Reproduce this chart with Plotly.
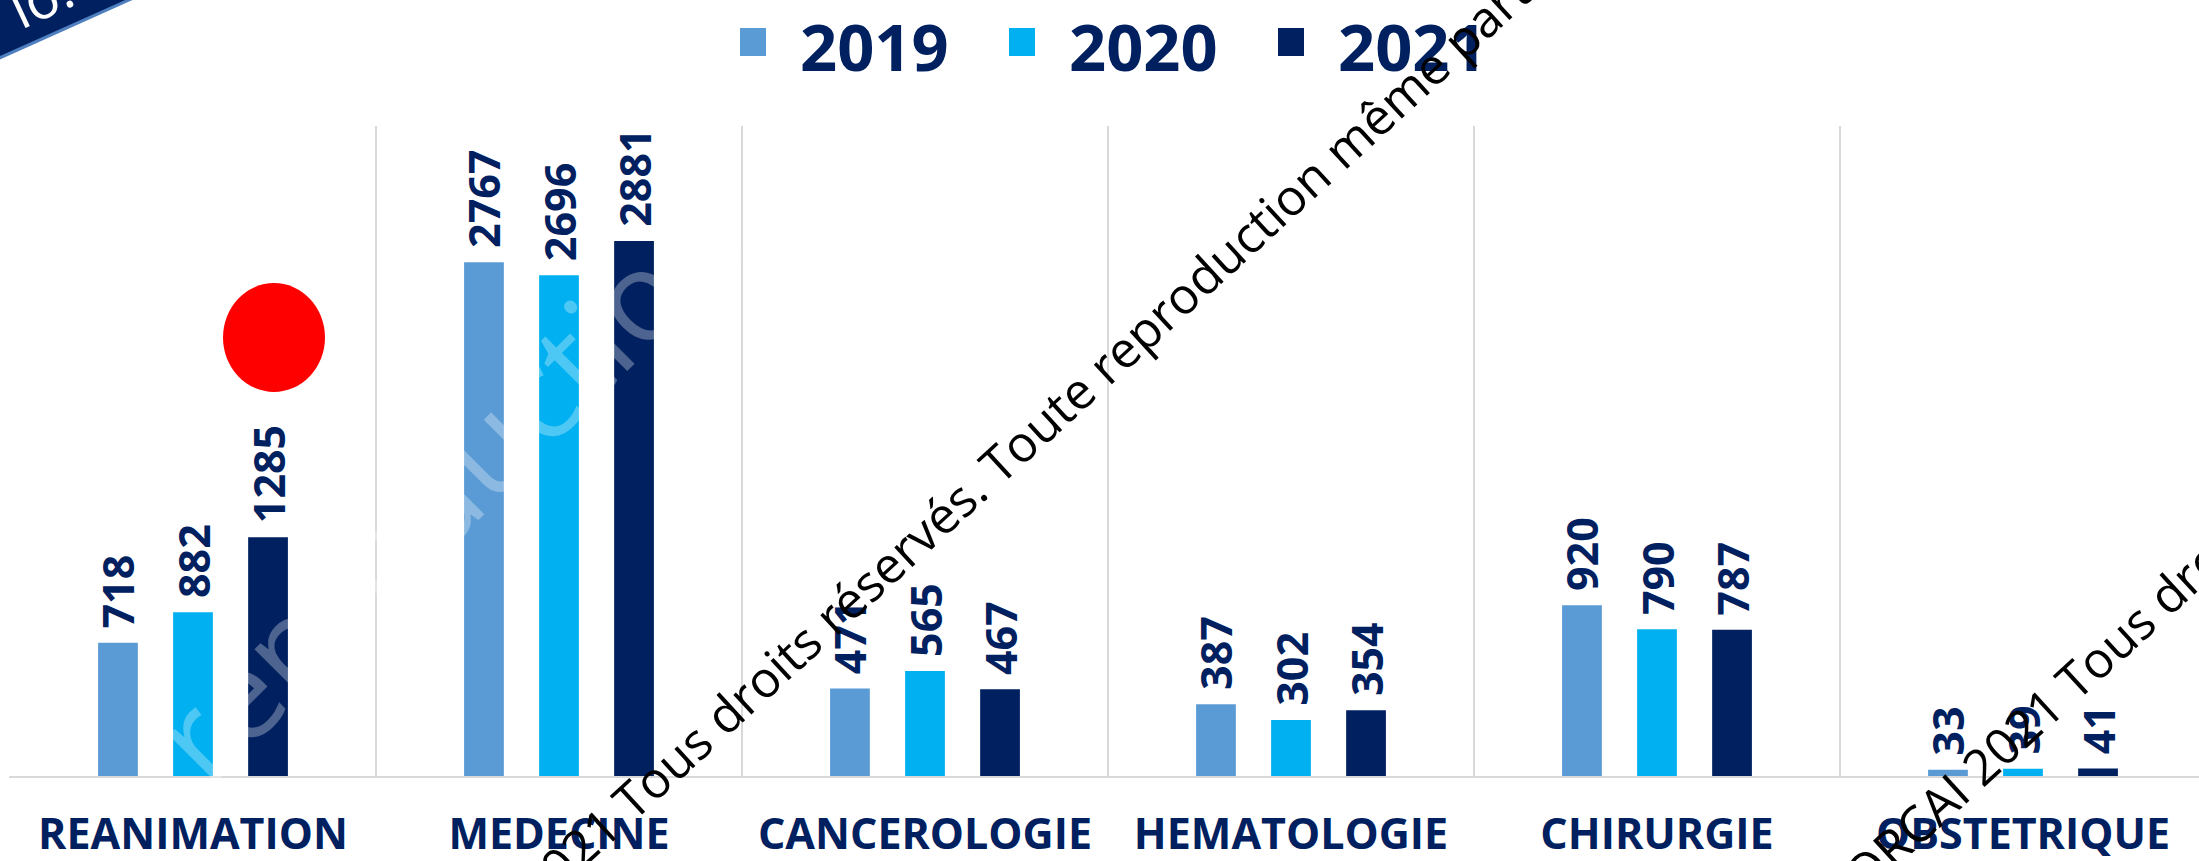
import plotly.graph_objects as go

W, H = 2199, 861
ML, MR, MT = 9, 0, 126
MB = H - 776
PW, PH = W - ML - MR, H - MT - MB
CAT_W = 366  # pixel width of one category slot

categories = ["REANIMATION", "MEDECINE", "CANCEROLOGIE", "HEMATOLOGIE", "CHIRURGIE", "OBSTETRIQUE"]
years = ["2019", "2020", "2021"]
v2019 = [718, 2767, 471, 387, 920, 33]
v2020 = [882, 2696, 565, 302, 790, 39]
v2021 = [1285, 2881, 467, 354, 787, 41]
colors = ["#5B9BD5", "#00B0F0", "#002060"]
NAVY = "#002060"
FONT = "Open Sans"

watermark = "© ORCAI 2021 Tous droits réservés. Toute reproduction même partielle interdite"


def px(x):
    # page pixel -> paper x
    return (x - ML) / PW


def py(y):
    # page pixel -> paper y
    return (H - MB - y) / PH


fig = go.Figure()
for name, vals, col in zip(years, [v2019, v2020, v2021], colors):
    fig.add_trace(go.Bar(
        x=categories, y=vals, name=name,
        marker_color=col, marker_line_width=0,
        texttemplate="\u00a0%{y}", textposition="outside", textangle=-90,
        textfont=dict(family=FONT, size=43, color=NAVY, weight="bold"),
        constraintext="none", cliponaxis=False, showlegend=False,
    ))

# custom legend (big squares like the original)
for i, (name, col) in enumerate(zip(years, colors)):
    x0 = 740 + i * 269
    fig.add_shape(type="rect", xref="paper", yref="paper",
                  x0=px(x0), x1=px(x0 + 26), y0=py(56), y1=py(28),
                  fillcolor=col, line_width=0)
    fig.add_annotation(xref="paper", yref="paper", x=px(x0 + 58), y=py(0),
                       text=name, showarrow=False, xanchor="left", yanchor="top",
                       font=dict(family=FONT, size=65, color=NAVY, weight="bold"))

# red dot
fig.add_shape(type="circle", xref="paper", yref="paper",
              x0=px(223), x1=px(325), y0=py(392), y1=py(283),
              fillcolor="#FF0000", line_width=0)

# corner ribbon
fig.add_shape(type="path", xref="paper", yref="paper",
              path=f"M {px(-5)},{py(60)} L {px(140)},{py(-5)} L {px(-5)},{py(-5)} Z",
              fillcolor=NAVY, line=dict(color="#4F7FBF", width=3))
fig.add_annotation(xref="paper", yref="paper", x=px(40), y=py(-3), text="lo.",
                   showarrow=False, textangle=-25, xanchor="center", yanchor="middle",
                   font=dict(family=FONT, size=56, color="white"))

# faint white watermark over the bars
fig.add_annotation(xref="paper", yref="paper", x=px(444), y=py(485), text="reproduction",
                   showarrow=False, textangle=-45, xanchor="center", yanchor="middle",
                   font=dict(family=FONT, size=125, color="rgba(255,255,255,0.3)"))

# black diagonal watermarks
for dx, dy in [(0, 0), (1443, -120)]:
    fig.add_annotation(xref="paper", yref="paper", x=px(343 + dx), y=py(1067 + dy),
                       text=watermark, showarrow=False, textangle=-42.5,
                       xanchor="left", yanchor="bottom",
                       font=dict(family=FONT, size=50, color="black"))

fig.update_layout(
    width=W, height=H,
    margin=dict(l=ML, r=MR, t=MT, b=MB),
    paper_bgcolor="white", plot_bgcolor="white",
    barmode="group", bargap=0.385, bargroupgap=0.47,
    showlegend=False,
    xaxis=dict(
        range=[-0.5 - 1 / CAT_W, -0.5 - 1 / CAT_W + PW / CAT_W],
        tickson="boundaries", ticks="", automargin=False,
        showgrid=True, gridcolor="#D9D9D9", gridwidth=2,
        showline=True, linecolor="#D9D9D9", linewidth=2,
        tickfont=dict(family=FONT, size=43, color=NAVY, weight="bold"),
        ticklabelstandoff=19,
    ),
    yaxis=dict(range=[0, 3500], visible=False, automargin=False),
)

fig.write_html("out.html", config={"displayModeBar": False},
               post_script="document.body.style.margin='0';")
